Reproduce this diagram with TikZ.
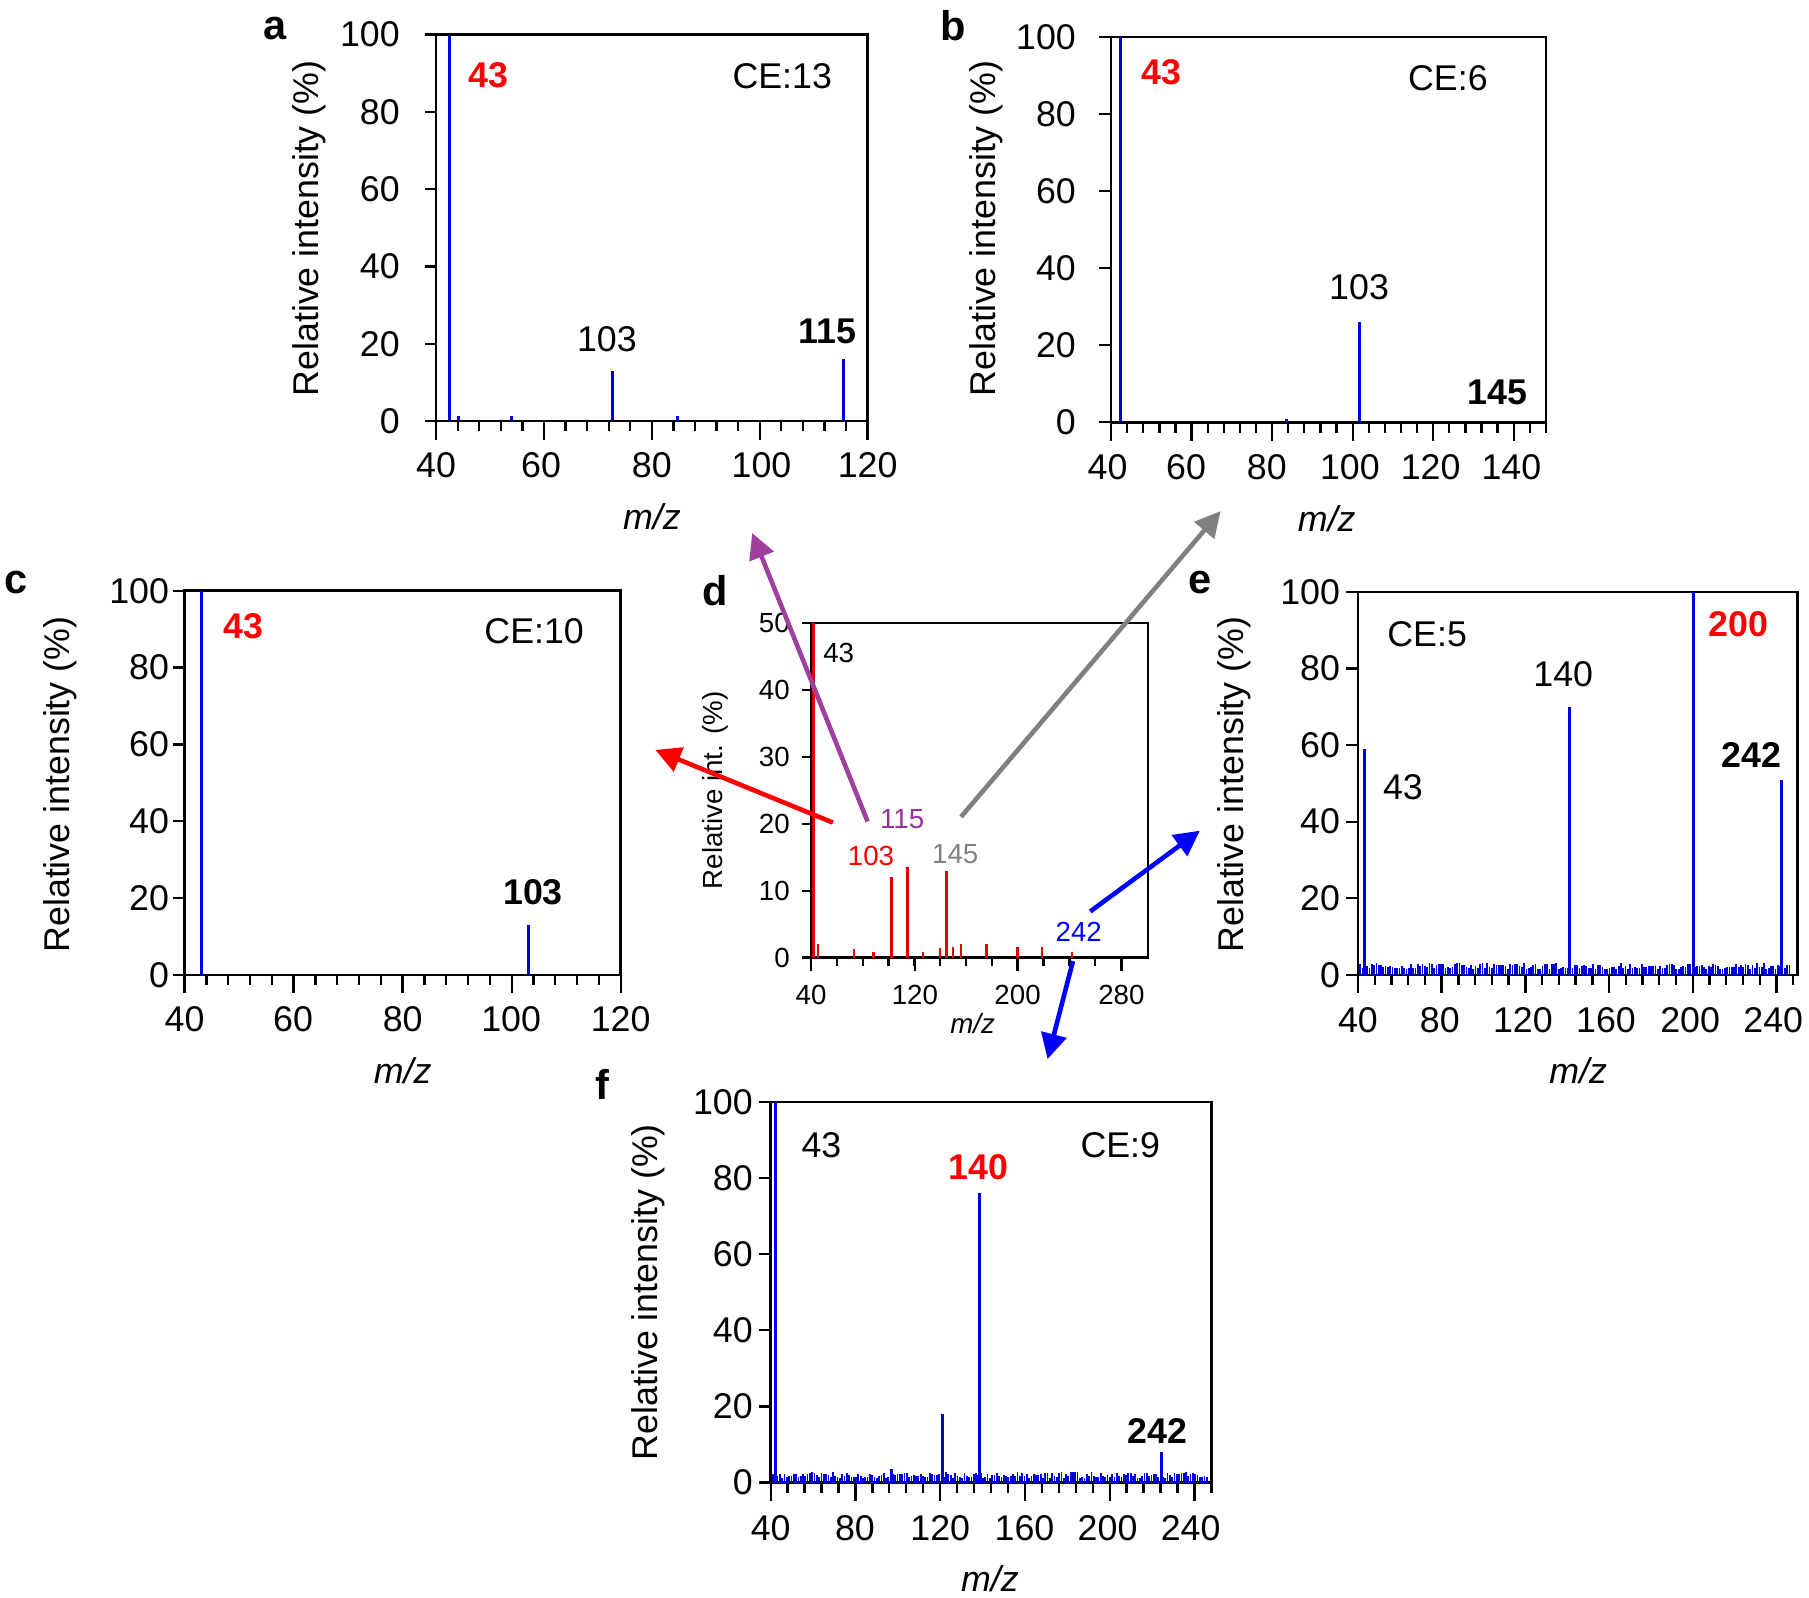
\documentclass[tikz,border=0pt]{standalone}
\usepackage{fontspec}
\setmainfont{Liberation Sans}
\usetikzlibrary{arrows.meta}
\tikzset{
  frm/.style={draw=black,line width=2.2pt},
  tk/.style={line width=2pt},
  pk/.style={draw=blue!85!black,line width=2.6pt},
  rpk/.style={draw=red!90!black,line width=2.6pt},
  lab/.style={font=\fontsize{31}{31}\selectfont},
  slab/.style={font=\fontsize{24}{24}\selectfont},
  plet/.style={font=\fontsize{36}{36}\selectfont\bfseries},
  arr/.style={line width=4pt,-{Triangle[length=22pt,width=22pt]}},
}
\newcommand\panelax[8]{%
  \draw[frm] (#1,#2) rectangle (#3,#4);
  \pgfmathsetmacro\sx{(#3-#1)/(#6-#5)}
  \foreach \v in {#5,#8,...,#6}{\draw[tk] ({#1+(\v-#5)*\sx},#4) -- ++(0,9);}
  \foreach \v in {#5,#7,...,#6}{\draw[tk] ({#1+(\v-#5)*\sx},#4) -- ++(0,16);}
}
\newcommand\yax[5]{%
  \pgfmathsetmacro\sy{(#3-#2)/#4}
  \foreach \v in {0,#5,...,#4}{\draw[tk] (#1,{#3-\v*\sy}) -- ++(-10,0);}
}
\begin{document}
\begin{tikzpicture}[x=1pt,y=-1pt]
\useasboundingbox (0,0) rectangle (1568,1385);
\fill[white] (0,0) rectangle (1568,1385);
%================ a
\panelax{378}{30}{752}{365}{40}{120}{60}{44}
\yax{378}{30}{365}{100}{20}
\foreach \v/\p in {40/378,60/469,80/565,100/660,120/752}\node[lab] (ax\v) at (\p,403) {\v};
\foreach \v in {0,20,...,100}\node[lab,anchor=east] (ay\v) at (350,{365-\v*3.35}) {\v};
\node[lab,rotate=90] (at) at (268,198) {Relative intensity (\%)};
\node[lab,font=\fontsize{31}{31}\selectfont\itshape] (amz) at (565,448) {m/z};
\node[plet] (la) at (238,25) {a};
\draw[pk] (390,365) -- (390,30);
\draw[pk] (531,365) -- (531,{365-13*3.35});
\draw[pk] (731,365) -- (731,{365-16*3.35});
\draw[pk] (397,365) -- (397,361); \draw[pk] (443,365) -- (443,361); \draw[pk] (587,365) -- (587,361);
\node[lab,text=red,font=\fontsize{31}{31}\selectfont\bfseries] (a43) at (423,65) {43};
\node[lab] (ace) at (678,66) {CE:13};
\node[lab] (a103) at (526,294) {103};
\node[lab,font=\fontsize{31}{31}\selectfont\bfseries] (a115) at (717,287) {115};
%================ b
\panelax{963}{32}{1340}{366}{40}{148}{60}{44}
\yax{963}{32}{366}{100}{20}
\foreach \v/\p in {40/960,60/1028,80/1098,100/1170,120/1240,140/1310}\node[lab] (bx\v) at (\p,405) {\v};
\foreach \v in {0,20,...,100}\node[lab,anchor=east] (by\v) at (936,{366-\v*3.34}) {\v};
\node[lab,rotate=90] (bt) at (855,198) {Relative intensity (\%)};
\node[lab,font=\fontsize{31}{31}\selectfont\itshape] (bmz) at (1150,450) {m/z};
\node[plet] (lb) at (826,22) {b};
\draw[pk] (971,366) -- (971,32);
\draw[pk] (1178,366) -- (1178,{366-26*3.34});
\draw[pk] (1115,366) -- (1115,363);
\node[lab,text=red,font=\fontsize{31}{31}\selectfont\bfseries] (b43) at (1007,63) {43};
\node[lab] (bce) at (1255,68) {CE:6};
\node[lab] (b103) at (1178,249) {103};
\node[lab,font=\fontsize{31}{31}\selectfont\bfseries] (b145) at (1298,340) {145};
%================ c
\panelax{160}{512}{538}{845}{40}{120}{60}{44}
\yax{160}{512}{845}{100}{20}
\foreach \v/\p in {40/160,60/254,80/349,100/443,120/538}\node[lab] (cx\v) at (\p,883) {\v};
\foreach \v in {0,20,...,100}\node[lab,anchor=east] (cy\v) at (150,{845-\v*3.33}) {\v};
\node[lab,rotate=90] (ct) at (52,680) {Relative intensity (\%)};
\node[lab,font=\fontsize{31}{31}\selectfont\itshape] (cmz) at (349,928) {m/z};
\node[plet] (lc) at (14,505) {c};
\draw[pk] (175,845) -- (175,512);
\draw[pk] (458,845) -- (458,{845-13*3.33});
\node[lab,text=red,font=\fontsize{31}{31}\selectfont\bfseries] (c43) at (211,543) {43};
\node[lab] (cce) at (463,547) {CE:10};
\node[lab,font=\fontsize{31}{31}\selectfont\bfseries] (c103) at (462,773) {103};
%================ d
\draw[frm] (703,540) rectangle (995,830);
\foreach \v in {0,10,...,50}{\draw[tk] (703,{830-\v*5.8}) -- ++(-8,0);
  \node[slab,anchor=east] at (688,{830-\v*5.8}) {\v};}
\foreach \v/\p in {40/703,120/793,200/882,280/972}{\draw[tk] (\p,830) -- ++(0,12); \node[slab] at (\p,862) {\v};}
\foreach \i in {0,...,11}{\draw[tk] ({703+\i*22.4},830) -- ++(0,7);}
\node[slab,rotate=90] (dt) at (620,685) {Relative int. (\%)};
\node[slab,font=\fontsize{24}{24}\selectfont\itshape] (dmz) at (843,887) {m/z};
\node[plet] (ld) at (620,512) {d};
\draw[rpk] (705,830) -- (705,540);
\draw[rpk] (773,830) -- (773,{830-12*5.8});
\draw[rpk] (787,830) -- (787,{830-13.5*5.8});
\draw[rpk] (820,830) -- (820,{830-13*5.8});
\foreach \p/\h in {709/2,740/1.3,757/0.8,800/0.8,815/1.5,826/1.6,833/2,855/2,882/1.6,903/1.6,929/0.8}{\draw[rpk,line width=2pt] (\p,830) -- (\p,{830-\h*5.8});}
\node[slab] (d43) at (727,566) {43};
\node[slab,text=violet!80!white] (d115) at (782,710) {115};
\node[slab,text=red] (d103) at (755,742) {103};
\node[slab,text=gray] (d145) at (828,740) {145};
\node[slab,text=blue] (d242) at (935,808) {242};
%================ e
\panelax{1177}{513}{1558}{845}{40}{250}{80}{48}
\yax{1177}{513}{845}{100}{20}
\foreach \v/\p in {40/1177,80/1248,120/1320,160/1392,200/1465,240/1537}\node[lab] (ex\v) at (\p,884) {\v};
\foreach \v in {0,20,...,100}\node[lab,anchor=east] (ey\v) at (1165,{845-\v*3.32}) {\v};
\node[lab,rotate=90] (et) at (1070,680) {Relative intensity (\%)};
\node[lab,font=\fontsize{31}{31}\selectfont\itshape] (emz) at (1368,928) {m/z};
\node[plet] (le) at (1040,505) {e};
\pgfmathsetseed{7}
\foreach \i in {0,...,186}{\pgfmathsetmacro\hh{1.5+1.6*rnd}\draw[draw=blue!85!black,line width=1.5pt] ({1179+\i*2},845) -- ++(0,{-\hh*3.32});}
\draw[pk] (1183,845) -- (1183,{845-59*3.32});
\draw[pk] (1360,845) -- (1360,{845-70*3.32});
\draw[pk] (1468,845) -- (1468,513);
\draw[pk] (1544,845) -- (1544,{845-51*3.32});
\node[lab] (ece) at (1237,550) {CE:5};
\node[lab] (e140) at (1355,584) {140};
\node[lab,text=red,font=\fontsize{31}{31}\selectfont\bfseries] (e200) at (1507,541) {200};
\node[lab,font=\fontsize{31}{31}\selectfont\bfseries] (e242) at (1518,654) {242};
\node[lab] (e43) at (1216,682) {43};
%================ f
\panelax{668}{955}{1050}{1285}{40}{248}{80}{48}
\yax{668}{955}{1285}{100}{20}
\foreach \v/\p in {40/668,80/741,120/815,160/888,200/960,240/1032}\node[lab] (fx\v) at (\p,1325) {\v};
\foreach \v in {0,20,...,100}\node[lab,anchor=east] (fy\v) at (656,{1285-\v*3.3}) {\v};
\node[lab,rotate=90] (ft) at (562,1120) {Relative intensity (\%)};
\node[lab,font=\fontsize{31}{31}\selectfont\itshape] (fmz) at (858,1368) {m/z};
\node[plet] (lf) at (522,940) {f};
\pgfmathsetseed{11}
\foreach \i in {0,...,188}{\pgfmathsetmacro\hh{1.2+1.6*rnd}\draw[draw=blue!85!black,line width=1.5pt] ({670+\i*2},1285) -- ++(0,{-\hh*3.3});}
\draw[pk] (672,1285) -- (672,955);
\draw[pk] (773,1285) -- (773,{1285-3.5*3.3});
\draw[pk] (817,1285) -- (817,{1285-18*3.3});
\draw[pk] (849,1285) -- (849,{1285-76*3.3});
\draw[pk] (1007,1285) -- (1007,{1285-8*3.3});
\node[lab] (f43) at (712,993) {43};
\node[lab,text=red,font=\fontsize{31}{31}\selectfont\bfseries] (f140) at (848,1012) {140};
\node[lab] (fce) at (971,993) {CE:9};
\node[lab,font=\fontsize{31}{31}\selectfont\bfseries] (f242) at (1003,1240) {242};
%================ arrows
\coordinate (p1) at (752,712); \coordinate (p2) at (652,462);
\coordinate (r1) at (722,713); \coordinate (r2) at (568,650);
\coordinate (g1) at (833,708); \coordinate (g2) at (1058,443);
\coordinate (b1) at (945,790); \coordinate (b2) at (1040,720);
\coordinate (c1) at (930,833); \coordinate (c2) at (908,918);
\draw[arr,draw=violet!75!white] (p1) -- (p2);
\draw[arr,draw=red] (r1) -- (r2);
\draw[arr,draw=gray] (g1) -- (g2);
\draw[arr,draw=blue] (b1) -- (b2);
\draw[arr,draw=blue] (c1) -- (c2);
\end{tikzpicture}
\end{document}
